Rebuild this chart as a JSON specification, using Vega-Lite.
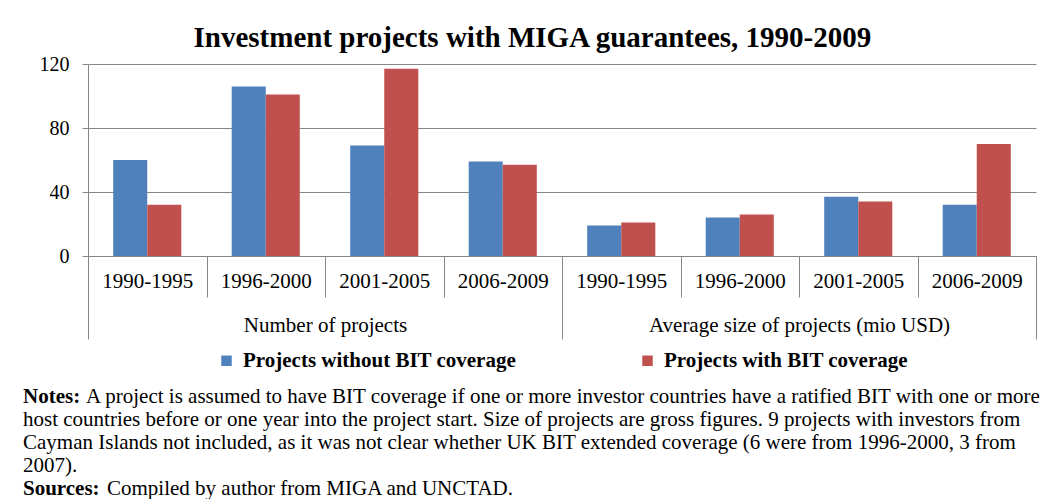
{
  "$schema": "https://vega.github.io/schema/vega-lite/v6.json",
  "padding": {"left": 23, "top": 24, "right": 0, "bottom": 0},
  "background": "#ffffff",
  "title": {
    "text": "Investment projects with MIGA guarantees, 1990-2009",
    "font": "Liberation Serif",
    "fontSize": 29,
    "fontWeight": "bold",
    "color": "#000000",
    "anchor": "middle",
    "offset": 1
  },
  "config": {
    "font": "Liberation Serif",
    "view": {"stroke": null},
    "legend": {"layout": {"bottom": {"anchor": "middle"}}}
  },
  "resolve": {"legend": {"color": "independent"}},
  "datasets": {
    "bars": [
      {"key": "N 1990-1995", "measure": "Number of projects", "period": "1990-1995", "series": "Projects without BIT coverage", "value": 60},
      {"key": "N 1990-1995", "measure": "Number of projects", "period": "1990-1995", "series": "Projects with BIT coverage", "value": 32},
      {"key": "N 1996-2000", "measure": "Number of projects", "period": "1996-2000", "series": "Projects without BIT coverage", "value": 106},
      {"key": "N 1996-2000", "measure": "Number of projects", "period": "1996-2000", "series": "Projects with BIT coverage", "value": 101},
      {"key": "N 2001-2005", "measure": "Number of projects", "period": "2001-2005", "series": "Projects without BIT coverage", "value": 69},
      {"key": "N 2001-2005", "measure": "Number of projects", "period": "2001-2005", "series": "Projects with BIT coverage", "value": 117},
      {"key": "N 2006-2009", "measure": "Number of projects", "period": "2006-2009", "series": "Projects without BIT coverage", "value": 59},
      {"key": "N 2006-2009", "measure": "Number of projects", "period": "2006-2009", "series": "Projects with BIT coverage", "value": 57},
      {"key": "S 1990-1995", "measure": "Average size of projects (mio USD)", "period": "1990-1995", "series": "Projects without BIT coverage", "value": 19},
      {"key": "S 1990-1995", "measure": "Average size of projects (mio USD)", "period": "1990-1995", "series": "Projects with BIT coverage", "value": 21},
      {"key": "S 1996-2000", "measure": "Average size of projects (mio USD)", "period": "1996-2000", "series": "Projects without BIT coverage", "value": 24},
      {"key": "S 1996-2000", "measure": "Average size of projects (mio USD)", "period": "1996-2000", "series": "Projects with BIT coverage", "value": 26},
      {"key": "S 2001-2005", "measure": "Average size of projects (mio USD)", "period": "2001-2005", "series": "Projects without BIT coverage", "value": 37},
      {"key": "S 2001-2005", "measure": "Average size of projects (mio USD)", "period": "2001-2005", "series": "Projects with BIT coverage", "value": 34},
      {"key": "S 2006-2009", "measure": "Average size of projects (mio USD)", "period": "2006-2009", "series": "Projects without BIT coverage", "value": 32},
      {"key": "S 2006-2009", "measure": "Average size of projects (mio USD)", "period": "2006-2009", "series": "Projects with BIT coverage", "value": 70}
    ]
  },
  "vconcat": [
    {
      "width": 948,
      "height": 192,
      "title": {
        "text": ["Notes:", "\u200b", "\u200b", "\u200b", "Sources:"],
        "subtitle": [
          "\u200b\u00a0\u00a0\u00a0\u00a0\u00a0\u00a0\u00a0\u00a0\u00a0\u00a0\u00a0\u00a0A project is assumed to have BIT coverage if one or more investor countries have a ratified BIT with one or more",
          "host countries before or one year into the project start. Size of projects are gross figures. 9 projects with investors from",
          "Cayman Islands not included, as it was not clear whether UK BIT extended coverage (6 were from 1996-2000, 3 from",
          "2007).",
          "\u200b\u00a0\u00a0\u00a0\u00a0\u00a0\u00a0\u00a0\u00a0\u00a0\u00a0\u00a0\u00a0\u00a0\u00a0\u00a0\u00a0Compiled by author from MIGA and UNCTAD."
        ],
        "orient": "bottom",
        "anchor": "start",
        "frame": "group",
        "dx": -65,
        "baseline": "top",
        "offset": 15,
        "font": "Liberation Serif",
        "fontSize": 21,
        "fontWeight": "bold",
        "color": "#000000",
        "lineHeight": 23,
        "subtitleFont": "Liberation Serif",
        "subtitleFontSize": 21,
        "subtitleFontWeight": "normal",
        "subtitleColor": "#000000",
        "subtitleLineHeight": 23,
        "subtitlePadding": -113
      },
      "layer": [
        {
          "data": {"name": "bars"},
          "mark": {"type": "bar"},
          "encoding": {
            "x": {
              "field": "key", "type": "nominal", "sort": null,
              "scale": {"type": "band", "paddingInner": 0, "paddingOuter": 0},
              "axis": {
                "orient": "bottom",
                "title": null,
                "labelExpr": "slice(datum.label, 2)",
                "labelFont": "Liberation Serif",
                "labelFontSize": 21,
                "labelColor": "#000000",
                "labelAngle": 0,
                "labelBaseline": "alphabetic",
                "labelPadding": -10,
                "tickBand": "extent",
                "tickSize": 41,
                "tickColor": "#868686",
                "domainColor": "#868686",
                "grid": false
              }
            },
            "xOffset": {
              "field": "series", "type": "nominal",
              "sort": ["Projects without BIT coverage", "Projects with BIT coverage"],
              "scale": {"paddingInner": 0, "paddingOuter": 0.74}
            },
            "y": {
              "field": "value", "type": "quantitative",
              "scale": {"domain": [0, 120], "nice": false},
              "axis": {
                "title": null,
                "values": [0, 40, 80, 120],
                "grid": true,
                "gridColor": "#868686",
                "domainColor": "#868686",
                "tickColor": "#868686",
                "tickSize": 6,
                "labelPadding": 13,
                "labelFont": "Liberation Serif",
                "labelFontSize": 20,
                "labelColor": "#000000"
              }
            },
            "color": {
              "field": "series", "type": "nominal",
              "sort": ["Projects without BIT coverage", "Projects with BIT coverage"],
              "scale": {"domain": ["Projects without BIT coverage", "Projects with BIT coverage"], "range": ["#4F81BD", "#C0504D"]},
              "legend": {
                "title": null,
                "orient": "bottom",
                "direction": "horizontal",
                "symbolType": "square",
                "symbolSize": 110,
                "symbolStrokeWidth": 0,
                "labelFont": "Liberation Serif",
                "labelFontSize": 21,
                "labelFontWeight": "bold",
                "labelColor": "#000000",
                "labelLimit": 0,
                "labelOffset": 6,
                "columnPadding": 120,
                "offset": 10,
                "padding": 0
              }
            }
          }
        },
        {
          "data": {"name": "bars"},
          "mark": {"type": "bar", "opacity": 0},
          "encoding": {
            "x": {
              "field": "measure", "type": "nominal", "sort": null,
              "scale": {"type": "band", "paddingInner": 0, "paddingOuter": 0},
              "axis": {
                "orient": "bottom",
                "title": null,
                "labelFont": "Liberation Serif",
                "labelFontSize": 21,
                "labelColor": "#000000",
                "labelAngle": 0,
                "labelBaseline": "alphabetic",
                "labelPadding": -8,
                "labelLimit": 0,
                "tickBand": "extent",
                "tickSize": 83,
                "tickColor": "#868686",
                "domainColor": "#868686",
                "grid": false
              }
            },
            "y": {"datum": 0, "type": "quantitative"}
          }
        }
      ],
      "resolve": {"scale": {"x": "independent"}}
    }
  ]
}
